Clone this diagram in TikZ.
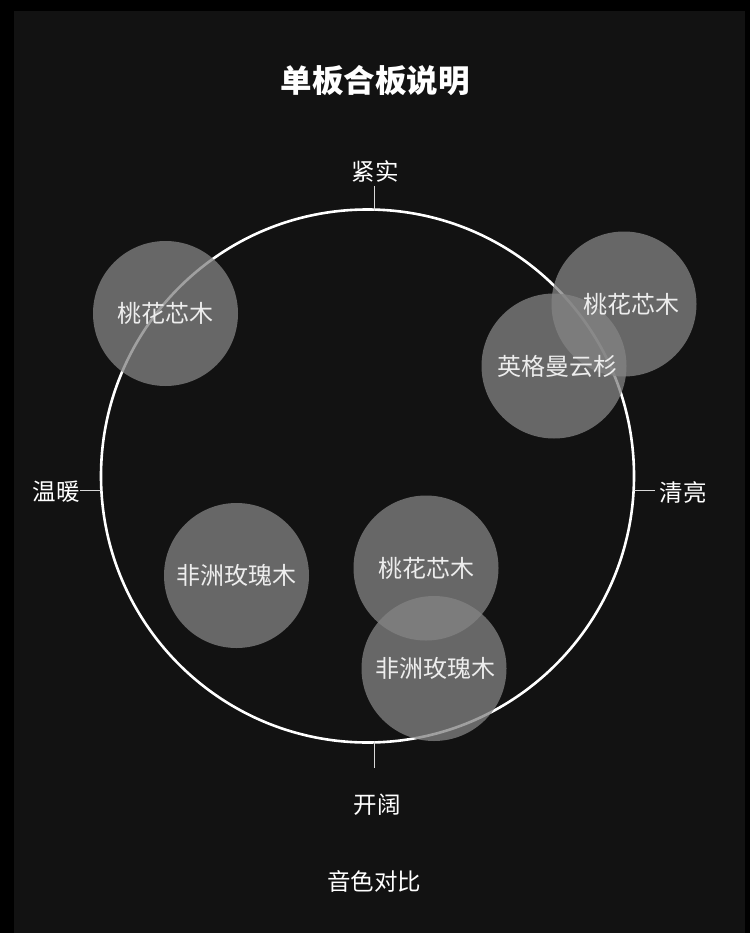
\documentclass[tikz,border=0pt]{standalone}
\usepackage{fontspec}
\setmainfont{Noto Sans CJK SC}
\usetikzlibrary{positioning}
\definecolor{panel}{HTML}{121212}
\definecolor{bubblegray}{HTML}{838383}

\begin{document}
\begin{tikzpicture}[x=1pt,y=-1pt,
  axislabel/.style={text=white,font=\fontsize{23.5}{23.5}\selectfont,inner sep=0pt},
  bubble/.style={fill=bubblegray,fill opacity=0.76},
  woodname/.style={text=white!93!black,font=\fontsize{24}{24}\selectfont,inner sep=0pt}]
  % background
  \fill[black] (0,0) rectangle (750,933);
  \fill[panel] (14,11) rectangle (745,933);
  \useasboundingbox (0,0) rectangle (750,933);

  \node[text=white,font=\fontsize{31.5}{31.5}\selectfont\bfseries,inner sep=0pt] (title) at (375,81) {单板合板说明};
  \node[axislabel] (tight) at (375,171) {紧实};
  \node[axislabel] (open) at (377,805) {开阔};
  \node[axislabel] (warm) at (56,492) {温暖};
  \node[axislabel] (bright) at (683,492) {清亮};
  \node[axislabel] (contrast) at (374,881) {音色对比};

  % tone circle and its ticks
  \draw[white,line width=2.6pt] (367.5,476) circle[radius=266.5pt];
  \coordinate (ttop) at (374,186);  \coordinate (ctop) at (374,211);
  \coordinate (tbot) at (374,768);  \coordinate (cbot) at (374,741);
  \coordinate (tleft) at (80,490);  \coordinate (cleft) at (101,490);
  \coordinate (tright) at (655,490); \coordinate (cright) at (634,490);
  \foreach \a/\b in {ttop/ctop, tbot/cbot, tleft/cleft, tright/cright}
    \draw[white!85!black,line width=1pt] (\a) -- (\b);

  % woods
  \foreach \n/\p in {b1/{(165.5,313.5)}, b2/{(624,304)}, b3/{(554,366)},
                     b4/{(236.5,575.5)}, b5/{(426,568)}, b6/{(434,668.5)}}
    \fill[bubble] \p circle[radius=72.5pt] coordinate (\n);
  \node[woodname] (w1) at (b1) {桃花芯木};
  \node[woodname] (w2) at ([xshift=7pt]b2) {桃花芯木};
  \node[woodname] (w3) at ([xshift=3pt]b3) {英格曼云杉};
  \node[woodname] (w4) at (b4) {非洲玫瑰木};
  \node[woodname] (w5) at (b5) {桃花芯木};
  \node[woodname] (w6) at ([xshift=1pt]b6) {非洲玫瑰木};
\end{tikzpicture}
\end{document}
